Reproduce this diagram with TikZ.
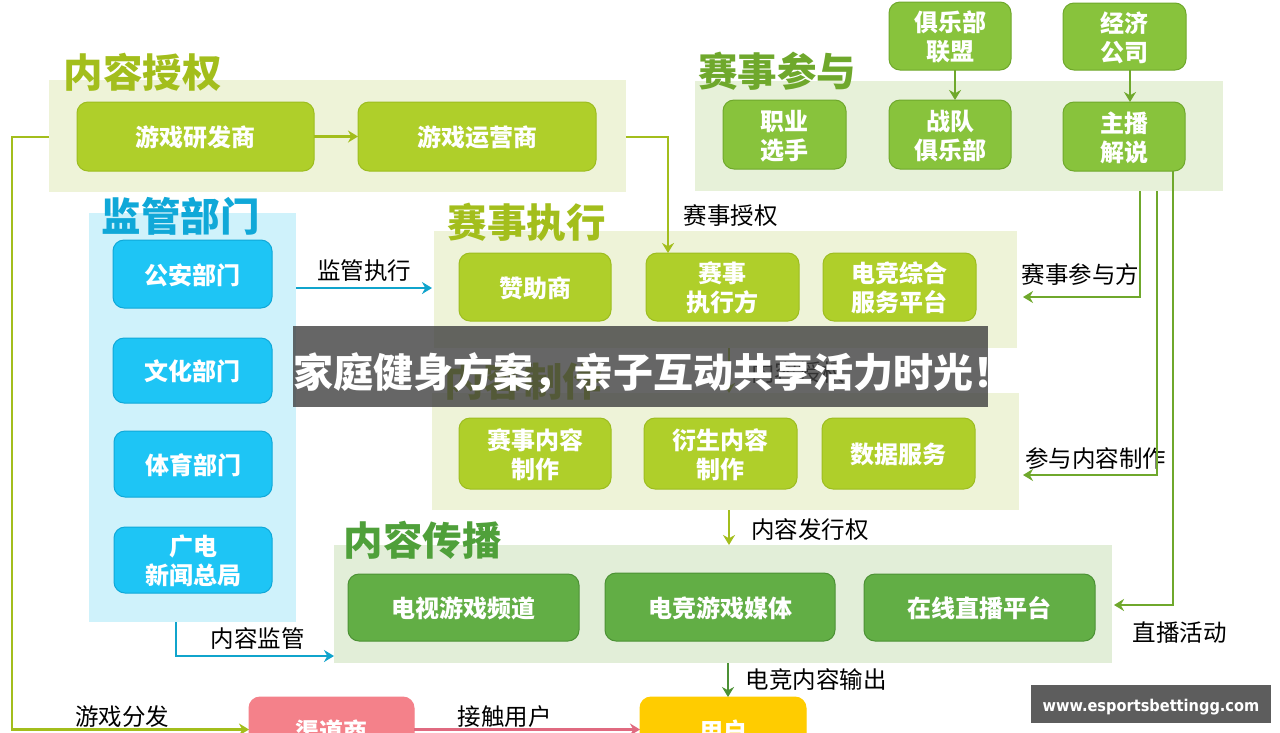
\documentclass[tikz,border=0pt]{standalone}
\usepackage{fontspec}
\setmainfont{Noto Sans CJK SC}
\newfontfamily\urlfont{DejaVu Sans Condensed}
\usetikzlibrary{positioning, arrows.meta}
\definecolor{limeback}{HTML}{EEF3D8}
\definecolor{limebox}{HTML}{AFCF2A}
\definecolor{limeedge}{HTML}{9DBD20}
\definecolor{limeline}{HTML}{A3BE1C}
\definecolor{leafback}{HTML}{E7F1D9}
\definecolor{leafbox}{HTML}{88C33C}
\definecolor{leafedge}{HTML}{6FA82C}
\definecolor{leafline}{HTML}{6FA82C}
\definecolor{grassback}{HTML}{E2EED8}
\definecolor{grassbox}{HTML}{62AE45}
\definecolor{grassedge}{HTML}{4C9135}
\definecolor{grasstitle}{HTML}{4FA03A}
\definecolor{skyback}{HTML}{CFF2FB}
\definecolor{skybox}{HTML}{1EC5F5}
\definecolor{skyedge}{HTML}{10A8D8}
\definecolor{skyline}{HTML}{10A4CC}
\definecolor{pinkbox}{HTML}{F4818A}
\definecolor{pinkline}{HTML}{E06A80}
\definecolor{sunbox}{HTML}{FFCC00}
\definecolor{bannergray}{HTML}{404040}
\tikzset{
	panel/.style={inner sep=0pt, outer sep=0pt},
	box/.style={rounded corners=11pt, line width=1pt, inner sep=0pt, outer sep=0pt, align=center,
		text=white, font=\fontsize{24}{29}\selectfont\bfseries,
		text height=20.2pt, text depth=0pt},
	twoline/.style={text height=49.2pt, text depth=0pt},
	limenode/.style={box, draw=limeedge, fill=limebox},
	leafnode/.style={box, draw=leafedge, fill=leafbox},
	grassnode/.style={box, draw=grassedge, fill=grassbox},
	skynode/.style={box, draw=skyedge, fill=skybox},
	heading/.style={font=\fontsize{39.5}{41}\selectfont\bfseries, inner sep=0pt},
	tag/.style={font=\fontsize{23.5}{28}\selectfont, text=black, inner sep=0pt},
	link/.style={line width=2.5pt, -{Stealth[length=10pt, width=12pt]}}
}
\begin{document}
\begin{tikzpicture}[x=1pt, y=-1pt]
	\path[use as bounding box, clip] (0,0) rectangle (1280,732);
	\fill[white] (0,0) rectangle (1280,732);

	\node[panel, fill=limeback, minimum width=577pt, minimum height=112pt] (license) at (337.5,136) {};
	\node[panel, fill=leafback, minimum width=528pt, minimum height=110pt] (join) at (959,136) {};
	\node[panel, fill=skyback, minimum width=207pt, minimum height=409pt] (watch) at (192.5,417.5) {};
	\node[panel, fill=limeback, minimum width=583pt, minimum height=117pt] (run) at (725.5,289.5) {};
	\node[panel, fill=limeback, minimum width=587pt, minimum height=117pt] (make) at (725.5,451.5) {};
	\node[panel, fill=grassback, minimum width=778pt, minimum height=118pt] (spread) at (723,604) {};

	\node[heading, text=limeline] (tlicense) at (142.5,72.5) {内容授权};
	\node[heading, text=leafline] (tjoin) at (777,71.5) {赛事参与};
	\node[heading, text=skyedge] (twatch) at (180.5,216) {监管部门};
	\node[heading, text=limeline] (trun) at (526.5,222) {赛事执行};
	\node[heading, text=limeline] (tmake) at (523,381) {内容制作};
	\node[heading, text=grasstitle] (tspread) at (422.5,540) {内容传播};

	\node[limenode, minimum width=237pt, minimum height=69pt] (dev) at (195.5,136.5) {游戏研发商};
	\node[limenode, minimum width=238pt, minimum height=69pt] (oper) at (477,136.5) {游戏运营商};

	\node[leafnode, twoline, minimum width=122pt, minimum height=68pt] (league) at (950,36) {俱乐部\\联盟};
	\node[leafnode, twoline, minimum width=123pt, minimum height=67pt] (econ) at (1124.5,36.5) {经济\\公司};
	\node[leafnode, twoline, minimum width=123pt, minimum height=69pt] (player) at (784.5,134.5) {职业\\选手};
	\node[leafnode, twoline, minimum width=122pt, minimum height=69pt] (club) at (950,134.5) {战队\\俱乐部};
	\node[leafnode, twoline, minimum width=122pt, minimum height=69pt] (host) at (1124,136.5) {主播\\解说};

	\node[skynode, minimum width=159pt, minimum height=68pt] (police) at (192.5,274) {公安部门};
	\node[skynode, minimum width=159pt, minimum height=65pt] (culture) at (192.5,370.5) {文化部门};
	\node[skynode, minimum width=158pt, minimum height=66pt] (sport) at (193,464) {体育部门};
	\node[skynode, twoline, minimum width=158pt, minimum height=66pt] (radio) at (193,560) {广电\\新闻总局};

	\node[limenode, minimum width=152pt, minimum height=68pt] (sponsor) at (535,287) {赞助商};
	\node[limenode, twoline, minimum width=153pt, minimum height=68pt] (exec) at (722.5,287) {赛事\\执行方};
	\node[limenode, twoline, minimum width=153pt, minimum height=68pt] (service) at (899.5,287) {电竞综合\\服务平台};

	\node[limenode, twoline, minimum width=152pt, minimum height=71pt] (match) at (535,453.5) {赛事内容\\制作};
	\node[limenode, twoline, minimum width=153pt, minimum height=71pt] (derive) at (720.5,453.5) {衍生内容\\制作};
	\node[limenode, minimum width=153pt, minimum height=71pt] (data) at (898.5,453.5) {数据服务};

	\node[grassnode, minimum width=231pt, minimum height=67pt] (tv) at (463.5,607.5) {电视游戏频道};
	\node[grassnode, minimum width=230pt, minimum height=68pt] (media) at (720,607) {电竞游戏媒体};
	\node[grassnode, minimum width=231pt, minimum height=67pt] (live) at (979.5,607.5) {在线直播平台};

	\node[box, fill=pinkbox, draw=pinkbox, minimum width=165pt, minimum height=66pt] (channel) at (331.5,730) {渠道商};
	\node[box, fill=sunbox, draw=sunbox, minimum width=166pt, minimum height=66pt] (user) at (723,730) {用户};

	\node[tag] (lwatch) at (364,271) {监管执行};
	\node[tag] (lgrant) at (730.5,216) {赛事授权};
	\node[tag] (ljoin) at (1080.5,275) {赛事参与方};
	\node[tag] (lcontent) at (798,373) {内容授权};
	\node[tag] (lmake) at (1095.5,459) {参与内容制作};
	\node[tag] (lissue) at (810,530) {内容发行权};
	\node[tag] (llive) at (1179.5,633) {直播活动};
	\node[tag] (lcheck) at (257.5,638) {内容监管};
	\node[tag] (loutput) at (816,679) {电竞内容输出};
	\node[tag] (lgame) at (122,717) {游戏分发};
	\node[tag] (ltouch) at (504.5,717) {接触用户};

	\coordinate (c1) at (668,137);
	\coordinate (c2) at (668,253);
	\coordinate (c3) at (12,137);
	\coordinate (c4) at (12,729.5);
	\coordinate (c5) at (1140,191);
	\coordinate (c6) at (1140,297);
	\coordinate (c7) at (1023,297);
	\coordinate (c8) at (1157,191);
	\coordinate (c9) at (1157,475);
	\coordinate (c10) at (1023,475);
	\coordinate (c11) at (1173,605);
	\coordinate (c12) at (1114,605);
	\coordinate (c13) at (176,622);
	\coordinate (c14) at (176,656);
	\coordinate (c15) at (432,288);

	\draw[link, color=limeline] (dev) -- (oper);
	\draw[link, color=limeline] (license.east |- c1) -- (c1) -- (c2);
	\draw[link, color=limeline] (license.west |- c3) -- (c3) -- (c4) -- (channel.west |- c4);
	\draw[link, color=leafline] (league.south -| 955,0) -- (club.north -| 955,0);
	\draw[link, color=leafline] (econ.south -| 1130,0) -- (host.north -| 1130,0);
	\draw[link, color=leafline] (c5) -- (c6) -- (c7);
	\draw[link, color=leafline] (c8) -- (c9) -- (c10);
	\draw[link, color=leafline] (host.south -| c11) -- (c11) -- (c12);
	\draw[link, color=skyline] (watch.east |- c15) -- (c15);
	\draw[link, color=skyline] (c13) -- (c14) -- (spread.west |- c14);
	\draw[link, color=limeline] (run.south -| 729,0) -- (make.north -| 729,0);
	\draw[link, color=limeline] (make.south -| 729,0) -- (spread.north -| 729,0);
	\draw[link, color=grassedge] (spread.south -| 728,0) -- (user.north -| 728,0);
	\draw[link, color=pinkline] (channel.east |- c4) -- (user.west |- c4);

	\node[panel, fill=bannergray, fill opacity=.8, minimum width=695pt, minimum height=81pt] (banner) at (640.5,366.5) {};
	\node[font=\fontsize{40}{42}\selectfont\bfseries, text=white, inner sep=0pt, anchor=west] (bannertext) at (293,373) {家庭健身方案，亲子互动共享活力时光！};
	\node[panel, fill=bannergray!85!white, minimum width=240pt, minimum height=38pt, text=white, text height=14.4pt, text depth=0pt, font=\urlfont\fontsize{16.2}{20}\selectfont\bfseries] (site) at (1151,704) {www.esportsbettingg.com};
\end{tikzpicture}
\end{document}
